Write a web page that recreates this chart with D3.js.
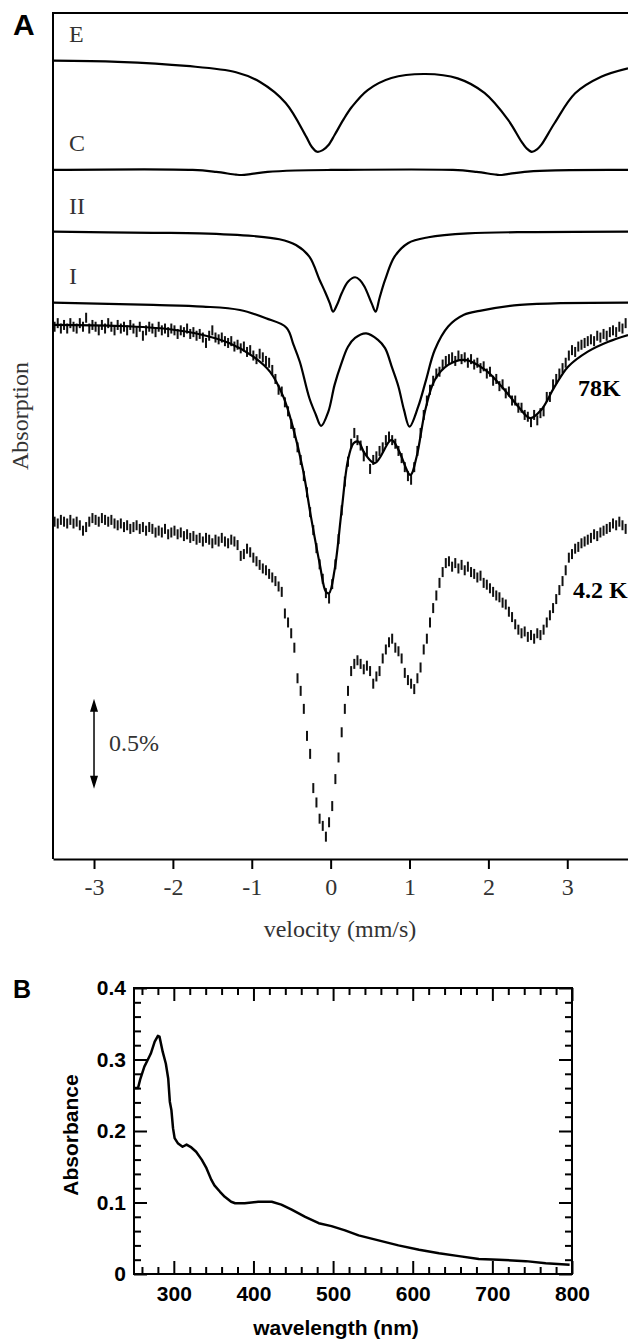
<!DOCTYPE html>
<html>
<head>
<meta charset="utf-8">
<script src="https://cdn.jsdelivr.net/npm/d3@7"></script>
<style>
body { margin: 0; background: #fff; }
svg { display: block; }
</style>
</head>
<body>
<svg id="fig"></svg>
<script>
// ---- panel A : Mossbauer spectra ----
// every trace is [velocity mm/s, absorption depth in % below its own baseline]
const velocityTicks = [-3, -2, -1, 0, 1, 2, 3];
const traceNames = ["E", "C", "II", "I"];
const traceOffsets = [0.265, 0.872, 1.215, 1.609];   // baselines, % below frame top

const traceE = [[-3.52,0],[-2.7,0.006],[-1.83,0.029],[-1.20,0.064],[-0.90,0.117],[-0.57,0.235],
  [-0.31,0.422],[-0.24,0.478],[-0.17,0.506],[-0.10,0.497],[-0.03,0.47],[0.05,0.413],[0.16,0.329],
  [0.27,0.256],[0.47,0.163],[0.77,0.096],[1.20,0.074],[1.61,0.098],[1.95,0.179],[2.25,0.329],
  [2.42,0.45],[2.48,0.485],[2.55,0.506],[2.62,0.491],[2.67,0.468],[2.84,0.346],[3.10,0.181],
  [3.43,0.089],[3.77,0.042]];
const traceC = [[-3.52,0],[-1.75,0],[-1.45,0.011],[-1.20,0.026],[-1.13,0.028],[-1.0,0.022],
  [-0.8,0.011],[-0.45,0.003],[0,0],[1.55,0],[1.85,0.011],[2.10,0.026],[2.17,0.028],[2.30,0.019],
  [2.50,0.009],[2.85,0.002],[3.77,0]];
const traceII = [[-3.52,0],[-2.25,0.006],[-1.66,0.009],[-0.98,0.024],[-0.65,0.042],[-0.44,0.074],
  [-0.27,0.139],[-0.14,0.268],[-0.07,0.335],[-0.01,0.398],[0.03,0.444],[0.08,0.407],[0.14,0.342],
  [0.22,0.278],[0.31,0.253],[0.37,0.268],[0.43,0.306],[0.52,0.398],[0.57,0.444],[0.62,0.368],
  [0.69,0.268],[0.81,0.139],[0.98,0.064],[1.24,0.031],[1.74,0.009],[2.59,0.002],[3.77,0]];
const traceI = [[-3.52,0],[-2.25,0.013],[-1.62,0.022],[-1.15,0.041],[-0.82,0.087],[-0.56,0.139],
  [-0.47,0.235],[-0.39,0.33],[-0.27,0.53],[-0.19,0.62],[-0.12,0.685],[-0.03,0.607],[0.05,0.457],
  [0.13,0.346],[0.22,0.245],[0.31,0.196],[0.45,0.171],[0.60,0.207],[0.69,0.253],[0.78,0.363],
  [0.86,0.467],[0.93,0.596],[1.00,0.689],[1.11,0.578],[1.21,0.429],[1.32,0.263],[1.49,0.133],
  [1.69,0.068],[1.89,0.046],[2.40,0.013],[3.77,0]];

// 78 K fit
const fit78 = [[-3.52,0],[-2.67,0.006],[-2.04,0.024],[-1.62,0.056],[-1.28,0.102],[-0.98,0.176],
  [-0.77,0.259],[-0.60,0.398],[-0.48,0.565],[-0.35,0.806],[-0.25,1.065],[-0.14,1.324],[-0.06,1.482],
  [-0.02,1.49],[0.05,1.361],[0.14,1.028],[0.22,0.75],[0.29,0.657],[0.35,0.648],[0.43,0.713],
  [0.56,0.768],[0.77,0.639],[0.86,0.694],[1.01,0.833],[1.09,0.732],[1.20,0.472],[1.32,0.306],
  [1.49,0.222],[1.70,0.194],[1.96,0.25],[2.17,0.343],[2.38,0.454],[2.53,0.518],[2.67,0.472],
  [2.84,0.343],[3.01,0.232],[3.26,0.148],[3.52,0.093],[3.77,0.056]];

// measured spectra, one value per channel, in 0.01 % absorption
const chanStart = -3.50, chanStep = 0.04;
const spec78 = [1,-1,2,0,2,-1,1,2,-1,1, -4,2,0,1,3,0,2,-1,1,3, 0,2,1,3,0,2,4,1,6,3,
  1,2,4,1,3,2,4,2,3,5, 3,4,2,5,4,6,5,7,10,6, 3,7,8,7,9,10,9,12,11,13,
  12,15,14,17,19,16,18,20,21,25, 30,36,37,43,48,55,60,68,75,84, 93,104,114,124,133,141,149,152,144,133,
  119,103,87,76,66,60,64,67,73,70, 80,75,73,70,68,64,62,64,66,70, 74,79,84,86,79,70,60,50,42,36,
  31,27,26,22,20,19,18,20,17,19, 18,21,19,22,21,24,23,27,26,31, 30,34,33,38,37,42,42,46,46,50,
  51,54,50,53,49,48,40,40,33,30, 27,24,21,17,14,15,12,11,10,9, 8,9,6,7,5,6,4,3,4,1,2,-1];
const spec42 = [2,3,1,2,3,1,3,2,4,7, 5,2,0,1,2,0,1,2,1,3, 4,3,5,4,6,5,4,6,5,7,
  5,6,8,7,8,6,9,8,7,9, 8,10,9,11,10,12,11,13,11,12, 14,12,13,11,13,14,12,13,15,21,
  20,17,19,22,24,26,28,29,31,33, 35,38,41,53,58,64,72,89,96,106, 121,131,150,158,167,171,177,169,160,145,
  133,119,106,96,85,81,79,81,84,82, 85,92,88,85,78,73,69,67,72,74, 78,86,90,92,95,89,83,73,67,58,
  50,43,36,30,25,24,27,25,28,26, 29,27,30,31,33,32,36,37,39,41, 43,44,47,48,52,55,59,62,64,63,
  66,65,67,64,65,62,58,54,50,45, 40,35,29,22,20,17,16,14,13,12, 11,9,10,8,7,6,5,3,4,2,4,6];
const offset78 = 1.733, offset42 = 2.806;

// ---- panel B : UV-vis ----
const wavelength = [250,255,258,263,267,271,276,280,282,286,290,293,295,297,299,301,305,311,316,
  322,328,335,341,347,351,358,364,372,377,389,406,423,435,448,465,482,498,515,532,557,582,608,
  633,658,683,708,742,767,797];
const absorbance = [0.260,0.260,0.273,0.290,0.299,0.308,0.325,0.333,0.332,0.311,0.294,0.273,0.241,
  0.229,0.204,0.190,0.183,0.178,0.181,0.177,0.171,0.160,0.148,0.132,0.124,0.115,0.108,0.101,0.099,
  0.099,0.101,0.101,0.097,0.090,0.080,0.071,0.067,0.061,0.054,0.047,0.040,0.034,0.029,0.025,0.021,
  0.020,0.018,0.015,0.013];
const wlTicks = [300, 400, 500, 600, 700, 800];
const absTicks = [0, 0.1, 0.2, 0.3, 0.4];

const serif = "'Liberation Serif', 'DejaVu Serif', Times, serif";
const sans = "'Liberation Sans', Arial, Helvetica, sans-serif";

var svg = d3.select("#fig").attr("width", 628).attr("height", 1339);

// panel A scales
var xA = d3.scaleLinear().domain([-3.52, 3.77]).range([53, 628]);
var yA = d3.scaleLinear().domain([0, 4.7]).range([13, 859]);

var smooth = d3.line().curve(d3.curveCatmullRom.alpha(0.5));

function tracePath(pts, off) {
    return smooth(pts.map(function(p) { return [xA(p[0]), yA(off + p[1])]; }));
}

// component traces
[traceE, traceC, traceII, traceI].forEach(function(tr, k) {
    svg.append("path")
        .attr("d", tracePath(tr, traceOffsets[k]))
        .attr("fill", "none").attr("stroke", "#000").attr("stroke-width", 2.2);
});

// data points drawn as short vertical bars
function drawSpectrum(vals, off) {
    svg.append("g").selectAll("line")
        .data(vals)
        .enter().append("line")
        .attr("x1", function(d, i) { return xA(chanStart + i * chanStep); })
        .attr("x2", function(d, i) { return xA(chanStart + i * chanStep); })
        .attr("y1", function(d) { return yA(off + d / 100) - 5; })
        .attr("y2", function(d) { return yA(off + d / 100) + 5; })
        .attr("stroke", "#111").attr("stroke-width", 2);
}
drawSpectrum(spec78, offset78);
drawSpectrum(spec42, offset42);

svg.append("path")
    .attr("d", tracePath(fit78, offset78))
    .attr("fill", "none").attr("stroke", "#000").attr("stroke-width", 2.2);

// frame (left + top), bottom axis
svg.append("path")
    .attr("d", "M628,13H53V859")
    .attr("fill", "none").attr("stroke", "#000").attr("stroke-width", 2);

svg.append("g")
    .attr("transform", "translate(0,859)")
    .call(d3.axisBottom(xA).tickValues(velocityTicks).tickSize(10).tickSizeOuter(0)
        .tickPadding(9).tickFormat(function(d) { return String(d); }))
    .attr("font-family", serif).attr("font-size", 24)
    .call(function(g) {
        g.select(".domain").attr("stroke-width", 2);
        g.selectAll(".tick line").attr("stroke-width", 2);
        g.selectAll(".tick text").attr("fill", "#333");
    });

svg.append("text").text("velocity (mm/s)")
    .attr("x", 340).attr("y", 937).attr("text-anchor", "middle")
    .attr("font-family", serif).attr("font-size", 24).attr("fill", "#333");

svg.append("text").text("Absorption")
    .attr("transform", "translate(28,416) rotate(-90)").attr("text-anchor", "middle")
    .attr("font-family", serif).attr("font-size", 24).attr("fill", "#333");

// trace labels
var labelY = [42, 151, 214, 284];
traceNames.forEach(function(n, k) {
    svg.append("text").text(n)
        .attr("x", 69).attr("y", labelY[k])
        .attr("font-family", serif).attr("font-size", 24).attr("fill", "#333");
});
svg.append("text").text("78K").attr("x", 578).attr("y", 396)
    .attr("font-family", serif).attr("font-size", 24).attr("font-weight", "bold");
svg.append("text").text("4.2 K").attr("x", 573).attr("y", 598)
    .attr("font-family", serif).attr("font-size", 24).attr("font-weight", "bold");

// 0.5 % scale bar
var barX = xA(-3), barTop = yA(3.81), barBot = yA(3.81 + 0.5);
svg.append("line")
    .attr("x1", barX).attr("x2", barX).attr("y1", barTop + 6).attr("y2", barBot - 6)
    .attr("stroke", "#000").attr("stroke-width", 1.5);
svg.append("path")
    .attr("d", "M" + barX + "," + barTop + "l-4,13h8z M" + barX + "," + barBot + "l-4,-13h8z")
    .attr("fill", "#000");
svg.append("text").text("0.5%").attr("x", 109).attr("y", 751)
    .attr("font-family", serif).attr("font-size", 24).attr("fill", "#333");

svg.append("text").text("A").attr("x", 13).attr("y", 35)
    .attr("font-family", sans).attr("font-size", 30).attr("font-weight", "bold");

// ---- panel B ----
var xB = d3.scaleLinear().domain([250, 800]).range([134, 572]);
var yB = d3.scaleLinear().domain([0, 0.4]).range([1274, 988]);

var wlMinor = d3.range(260, 800, 20).filter(function(v) { return v % 100 !== 0; });
var absMinor = d3.range(0.02, 0.4, 0.02).filter(function(v) { return Math.abs(v * 10 - Math.round(v * 10)) > 1e-6; });

function styleAxis(g) {
    g.select(".domain").remove();
    g.selectAll(".tick line").attr("stroke-width", 2);
    g.selectAll(".tick text")
        .attr("font-family", sans).attr("font-size", 21)
        .attr("font-weight", "bold").attr("fill", "#000");
}

var gB = svg.append("g");

// major + minor ticks on all four sides, pointing inward
gB.append("g").attr("transform", "translate(0,1274)")
    .call(d3.axisBottom(xB).tickValues(wlTicks).tickSize(-13).tickPadding(12).tickFormat(d3.format("d")))
    .call(styleAxis);
gB.append("g").attr("transform", "translate(0,1274)")
    .call(d3.axisBottom(xB).tickValues(wlMinor).tickSize(-7).tickFormat(""))
    .call(styleAxis);
gB.append("g").attr("transform", "translate(0,988)")
    .call(d3.axisTop(xB).tickValues(wlTicks).tickSize(-13).tickFormat(""))
    .call(styleAxis);
gB.append("g").attr("transform", "translate(0,988)")
    .call(d3.axisTop(xB).tickValues(wlMinor).tickSize(-7).tickFormat(""))
    .call(styleAxis);

gB.append("g").attr("transform", "translate(134,0)")
    .call(d3.axisLeft(yB).tickValues(absTicks).tickSize(-13).tickPadding(8)
        .tickFormat(function(d) { return d === 0 ? "0" : d.toFixed(1); }))
    .call(styleAxis);
gB.append("g").attr("transform", "translate(134,0)")
    .call(d3.axisLeft(yB).tickValues(absMinor).tickSize(-7).tickFormat(""))
    .call(styleAxis);
gB.append("g").attr("transform", "translate(572,0)")
    .call(d3.axisRight(yB).tickValues(absTicks).tickSize(-13).tickFormat(""))
    .call(styleAxis);
gB.append("g").attr("transform", "translate(572,0)")
    .call(d3.axisRight(yB).tickValues(absMinor).tickSize(-7).tickFormat(""))
    .call(styleAxis);

gB.append("rect")
    .attr("x", 134).attr("y", 988).attr("width", 572 - 134).attr("height", 1274 - 988)
    .attr("fill", "none").attr("stroke", "#000").attr("stroke-width", 2);

gB.append("path")
    .attr("d", d3.line()(wavelength.map(function(w, i) { return [xB(w), yB(absorbance[i])]; })))
    .attr("fill", "none").attr("stroke", "#000").attr("stroke-width", 2.5).attr("stroke-linejoin", "round");

gB.append("text").text("wavelength (nm)")
    .attr("x", 336).attr("y", 1335).attr("text-anchor", "middle")
    .attr("font-family", sans).attr("font-size", 21).attr("font-weight", "bold");
gB.append("text").text("Absorbance")
    .attr("transform", "translate(78,1135) rotate(-90)").attr("text-anchor", "middle")
    .attr("font-family", sans).attr("font-size", 21).attr("font-weight", "bold");

svg.append("text").text("B").attr("x", 13).attr("y", 998)
    .attr("font-family", sans).attr("font-size", 25).attr("font-weight", "bold");
</script>
</body>
</html>
